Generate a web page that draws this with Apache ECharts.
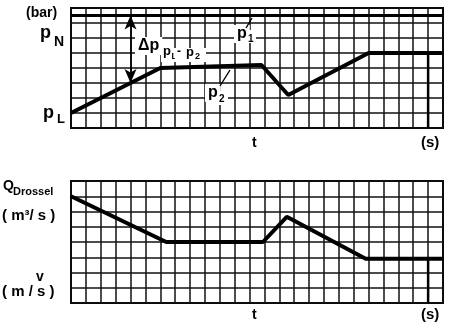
<!DOCTYPE html>
<html><head><meta charset="utf-8">
<script src="https://cdn.jsdelivr.net/npm/echarts@6/dist/echarts.min.js"></script>
<style>html,body{margin:0;padding:0;background:#fff}#c{width:450px;height:324px}</style>
</head><body><div id="c"></div>
<script>
// time grid: 25 units, value grid: 8 units
const tMax = 25;
const yMax = 8;
// upper diagram: pressures
const p1X = [0, 25];
const p1Y = [7.5, 7.5];
const p2X = [0, 6, 12.8, 14.6, 20, 25];
const p2Y = [1, 4, 4.2, 2.2, 5, 5];
const endMarkTopX = [24, 24];
const endMarkTopY = [0, 5];
// lower diagram: Q_Drossel / v
const qX = [0, 6.4, 12.9, 14.5, 19.8, 25];
const qY = [7, 4, 4, 5.65, 2.9, 2.9];
const endMarkBotX = [24, 24];
const endMarkBotY = [0, 2.9];
// delta-p arrow
const arrowX = 4, arrowFrom = 3, arrowTo = 7.5;

const zip = (a, b) => a.map((v, i) => [v, b[i]]);
const F = 'Liberation Sans';
const gridLine = {show: true, lineStyle: {color: '#111', width: 1.5}};
function xAx(i) {
  return {type: 'value', gridIndex: i, min: 0, max: tMax, interval: 1,
    axisLine: {show: false}, axisTick: {show: false}, axisLabel: {show: false}, splitLine: gridLine};
}
function yAx(i) {
  return {type: 'value', gridIndex: i, min: 0, max: yMax, interval: 1,
    axisLine: {show: false}, axisTick: {show: false}, axisLabel: {show: false}, splitLine: gridLine};
}
const thick = (w) => ({color: '#000', width: w});
const chart = echarts.init(document.getElementById('c'), null, {renderer: 'canvas'});
const txt = (x, y, s, size, extra) => Object.assign({type: 'text', left: x, top: y, z: 100,
  style: {text: s, font: 'bold ' + size + 'px "' + F + '"', fill: '#000'}}, extra || {});
const bgTxt = (x, y, s, size) => ({type: 'text', left: x, top: y, z: 100,
  style: {text: s, font: 'bold ' + size + 'px "' + F + '"', fill: '#000',
    backgroundColor: '#fff', padding: [1, 3]}});
chart.setOption({
  animation: false,
  grid: [
    {left: 71, top: 8, width: 372, height: 120, show: true, borderColor: '#000', borderWidth: 2, backgroundColor: 'transparent'},
    {left: 71, top: 181, width: 372, height: 122, show: true, borderColor: '#000', borderWidth: 2, backgroundColor: 'transparent'}
  ],
  xAxis: [xAx(0), xAx(1)],
  yAxis: [yAx(0), yAx(1)],
  series: [
    {type: 'line', xAxisIndex: 0, yAxisIndex: 0, data: zip(p1X, p1Y), symbol: 'none', lineStyle: thick(3), z: 5},
    {type: 'line', xAxisIndex: 0, yAxisIndex: 0, data: zip(p2X, p2Y), symbol: 'none', lineStyle: thick(4), z: 5,
      markLine: {symbol: ['arrow', 'arrow'], symbolSize: [9, 14], silent: true, label: {show: false},
        lineStyle: {color: '#000', width: 1.6, type: 'solid'},
        data: [[{coord: [arrowX, arrowFrom]}, {coord: [arrowX, arrowTo]}]]}},
    {type: 'line', xAxisIndex: 0, yAxisIndex: 0, data: zip(endMarkTopX, endMarkTopY), symbol: 'none', lineStyle: thick(2.5), z: 4},
    {type: 'line', xAxisIndex: 1, yAxisIndex: 1, data: zip(qX, qY), symbol: 'none', lineStyle: thick(4), z: 5},
    {type: 'line', xAxisIndex: 1, yAxisIndex: 1, data: zip(endMarkBotX, endMarkBotY), symbol: 'none', lineStyle: thick(2.5), z: 4}
  ],
  graphic: [
    txt(26, 6, '(bar)', 14),
    txt(40, 24, 'p', 18), txt(54, 35, 'N', 14),
    txt(43, 104, 'p', 18), txt(57, 113, 'L', 13),
    bgTxt(135, 37, 'Δp', 16),
    {type: 'text', left: 161, top: 45, z: 101, style: {text: 'p', font: 'bold 13px "' + F + '"', fill: '#000', backgroundColor: '#fff', padding: [0, 1, 4, 2]}},
    txt(170, 52, '1', 9), txt(177, 46, '-', 12), txt(186, 46, 'p', 13), txt(195, 52, '2', 9),
    {type: 'rect', left: 168, top: 48, shape: {width: 38, height: 14}, style: {fill: '#fff'}, z: 99},
    bgTxt(234, 25, 'p', 16), txt(248, 34, '1', 10),
    {type: 'rect', left: 246, top: 30, shape: {width: 10, height: 13}, style: {fill: '#fff'}, z: 99},
    {type: 'line', shape: {x1: 246, y1: 28, x2: 252, y2: 18}, style: {stroke: '#000', lineWidth: 1.4}, z: 100},
    bgTxt(205, 84, 'p', 16), txt(219, 94, '2', 10),
    {type: 'rect', left: 217, top: 91, shape: {width: 11, height: 14}, style: {fill: '#fff'}, z: 99},
    {type: 'line', shape: {x1: 220, y1: 86, x2: 230, y2: 70}, style: {stroke: '#000', lineWidth: 1.4}, z: 100},
    txt(252, 136, 't', 14), txt(421, 135, '(s)', 15),
    txt(3, 179, 'Q', 14), txt(13, 186, 'Drossel', 11),
    txt(2, 208, '( m³/ s )', 15),
    txt(36, 270, 'v', 14),
    txt(2, 284, '( m / s )', 15),
    txt(252, 308, 't', 14), txt(421, 307, '(s)', 15)
  ]
});
</script></body></html>
